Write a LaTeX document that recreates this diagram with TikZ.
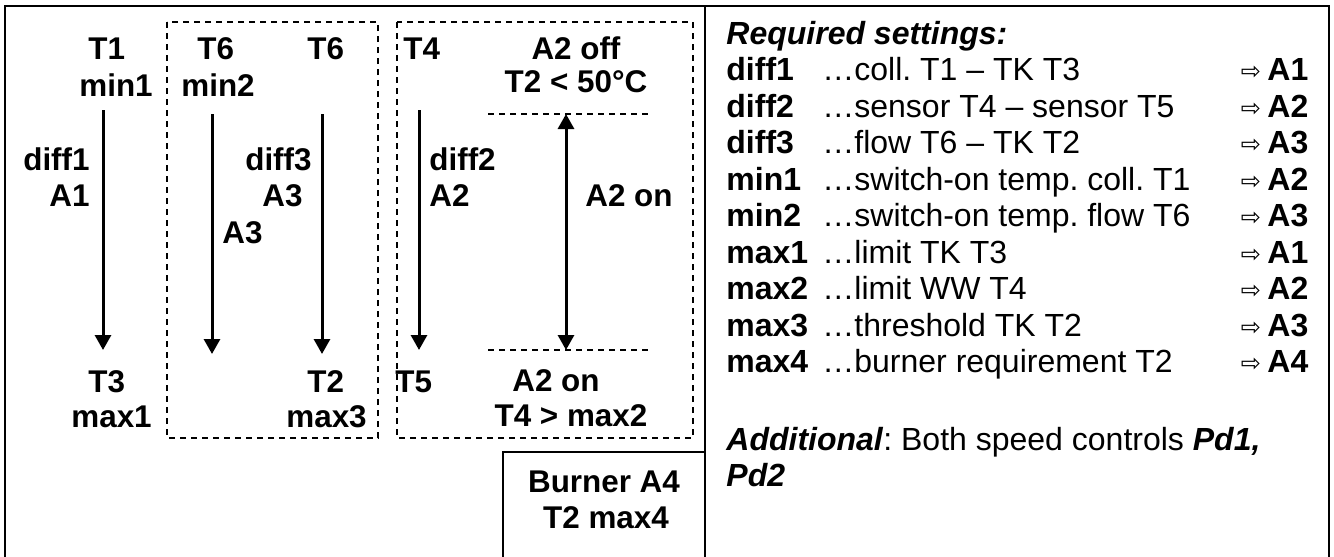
\documentclass[tikz,border=0pt]{standalone}
\usepackage{fontspec}
\setmainfont{Liberation Sans}
\newfontfamily\symfont{DejaVu Sans}
\usetikzlibrary{arrows.meta}
\frenchspacing
\begin{document}
\begin{tikzpicture}[x=0.5pt,y=-0.5pt,
  lbl/.style={inner sep=0,font=\fontsize{15.7}{19}\selectfont\bfseries},
  rtxt/.style={inner sep=0,anchor=base west,font=\fontsize{16}{19}\selectfont},
  rkey/.style={rtxt,font=\fontsize{16}{19}\selectfont\bfseries},
  sym/.style={inner sep=0,anchor=base,font=\symfont\fontsize{12}{13}\selectfont},
  flow/.style={line width=1.5pt,-{Triangle[width=8pt,length=7.5pt]}},
  grp/.style={line width=0.75pt,dash pattern=on 3pt off 2.5pt}]
\useasboundingbox (0,0) rectangle (1334,557);
% frame
\draw[line width=1pt] (5,557) -- (5,6) -- (1329,6) -- (1329,557);
\draw[line width=1pt] (705,6) -- (705,557);
\draw[line width=1pt] (503,557) -- (503,452) -- (705,452);
% groups
\draw[grp] (167,22) rectangle (378,438);
\draw[grp] (397,22) rectangle (693,438);
% collector loop
\node[lbl,anchor=base west] (t1) at (88,59) {T1};
\node[lbl,anchor=base west] (min1) at (79,96) {min1};
\node[lbl,anchor=base east] (diff1) at (90,170) {diff1};
\node[lbl,anchor=base east] (a1) at (90,206) {A1};
\node[lbl,anchor=base west] (t3) at (88,392) {T3};
\node[lbl,anchor=base west] (max1) at (71,427) {max1};
\coordinate (c1s) at (103,110);
\coordinate (c1e) at (103,350);
\draw[flow] (c1s) -- (c1e);
% flow T6
\node[lbl,anchor=base west] (t6a) at (197,59) {T6};
\node[lbl,anchor=base west] (min2) at (181,96) {min2};
\node[lbl,anchor=base west] (t6b) at (307,59) {T6};
\node[lbl,anchor=base east] (diff3) at (312,170) {diff3};
\node[lbl,anchor=base east] (a3a) at (303,206) {A3};
\node[lbl,anchor=base west] (a3b) at (222,243) {A3};
\node[lbl,anchor=base west] (t2) at (307,392) {T2};
\node[lbl,anchor=base west] (max3) at (286,427) {max3};
\coordinate (c2s) at (212,114);
\coordinate (c2e) at (212,354);
\coordinate (c3s) at (322,114);
\coordinate (c3e) at (322,354);
\draw[flow] (c2s) -- (c2e);
\draw[flow] (c3s) -- (c3e);
% sensor T4
\node[lbl,anchor=base west] (t4) at (403,59) {T4};
\node[lbl,anchor=base west] (diff2) at (429,170) {diff2};
\node[lbl,anchor=base west] (a2) at (429,206) {A2};
\node[lbl,anchor=base west] (t5) at (395,392) {T5};
\coordinate (c4s) at (419,110);
\coordinate (c4e) at (419,350);
\draw[flow] (c4s) -- (c4e);
\node[lbl,anchor=base] (off) at (576,59) {A2 off};
\node[lbl,anchor=base] (offc) at (576,92) {T2 < 50°C};
\node[lbl,anchor=base west] (onm) at (585,206) {A2 on};
\node[lbl,anchor=base] (on) at (556,391) {A2 on};
\node[lbl,anchor=base] (onc) at (571,426) {T4 > max2};
\coordinate (hl) at (488,114);
\coordinate (hr) at (650,114);
\coordinate (ll) at (488,350);
\coordinate (lr) at (650,350);
\draw[grp] (hl) -- (hr);
\draw[grp] (ll) -- (lr);
\coordinate (bs) at (566,114);
\coordinate (be) at (566,350);
\draw[flow,{Triangle[width=8pt,length=7.5pt]}-{Triangle[width=8pt,length=7.5pt]}] (bs) -- (be);
% burner
\node[lbl,anchor=base] (brn) at (604,492) {Burner A4};
\node[lbl,anchor=base] (brnm) at (606,528) {T2 max4};
% settings
\node[rtxt] (req) at (726,44) {\textbf{\textit{Required settings:}}};
\foreach \k/\d/\a [count=\i] in {diff1/coll. T1 – TK T3/A1,
  diff2/sensor T4 – sensor T5/A2,
  diff3/flow T6 – TK T2/A3,
  min1/switch-on temp. coll. T1/A2,
  min2/switch-on temp. flow T6/A3,
  max1/limit TK T3/A1,
  max2/limit WW T4/A2,
  max3/threshold TK T2/A3,
  max4/burner requirement T2/A4}{
  \node[rkey] (k\i) at (726,44+36.5*\i) {\k};
  \node[rtxt] (d\i) at (822,44+36.5*\i) {…\d};
  \node[sym] (s\i) at (1251,44+36.5*\i-1) {⇨};
  \node[rkey] (r\i) at (1267,44+36.5*\i) {\a};
}
\node[rtxt] (add) at (726,450) {\textbf{\textit{Additional}}: Both speed controls \textbf{\textit{Pd1,}}};
\node[rtxt] (pd2) at (726,486) {\textbf{\textit{Pd2}}};
\end{tikzpicture}
\end{document}
